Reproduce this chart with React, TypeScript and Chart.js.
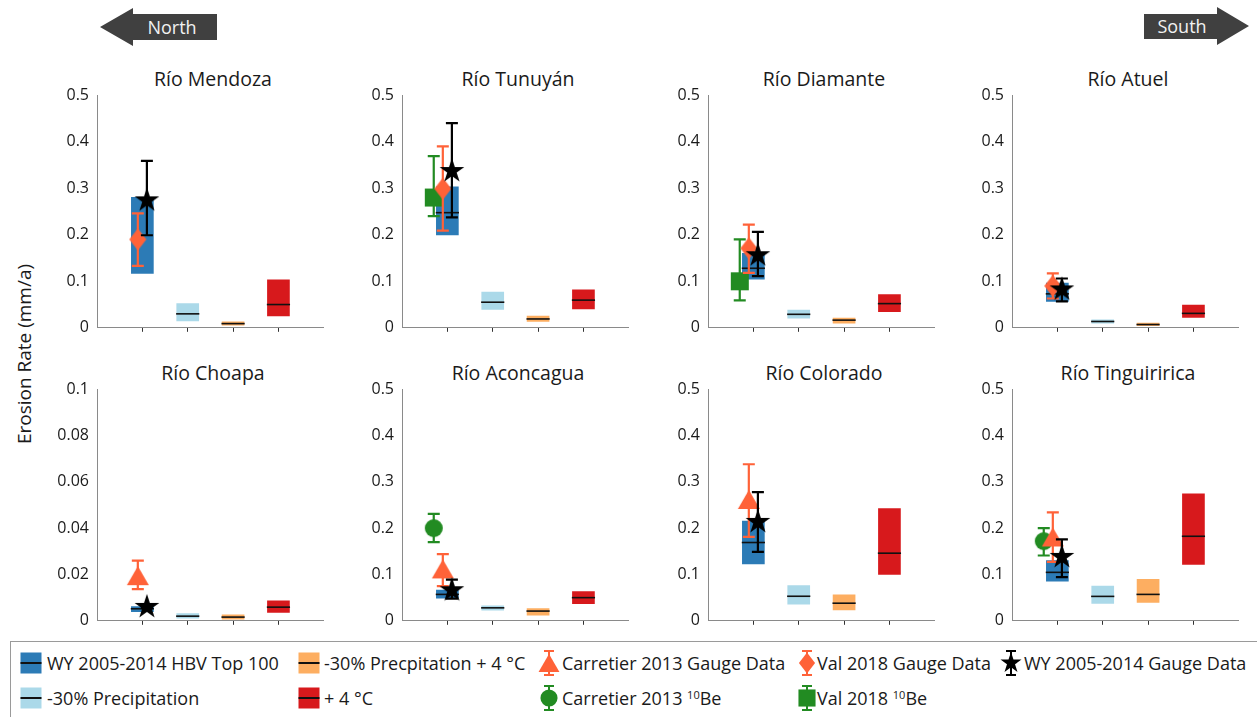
import React, { useEffect, useRef } from 'react';
import { Chart, registerables } from 'chart.js';

Chart.register(...registerables);

const FONT = '"Open Sans", "Noto Sans", sans-serif';

// ---------------- data ----------------
const basins = ['Río Mendoza', 'Río Tunuyán', 'Río Diamante', 'Río Atuel', 'Río Choapa', 'Río Aconcagua', 'Río Colorado', 'Río Tinguiririca'];
const yAxisMax = [0.5, 0.5, 0.5, 0.5, 0.1, 0.5, 0.5, 0.5];
const yAxisStep = [0.1, 0.1, 0.1, 0.1, 0.02, 0.1, 0.1, 0.1];
const xTickValues = [1, 2, 3, 4];

const scenarioNames = ['WY 2005-2014 HBV Top 100', '-30% Precipitation', '-30% Precpitation + 4 °C', '+ 4 °C'];

// [low, median, high] per basin
const hbvTop100: (number | null)[][] = [
  [0.116, null, 0.281],
  [0.199, 0.2475, 0.304],
  [0.104, 0.128, 0.161],
  [0.056, 0.073, 0.097],
  [0.0038, 0.0052, 0.0063],
  [0.048, 0.057, 0.067],
  [0.122, 0.169, 0.216],
  [0.085, 0.1046, 0.1306],
];
const minus30Precip: number[][] = [
  [0.014, 0.03, 0.053],
  [0.039, 0.055, 0.0775],
  [0.02, 0.029, 0.039],
  [0.009, 0.0136, 0.018],
  [0.001, 0.002, 0.0033],
  [0.022, 0.028, 0.033],
  [0.035, 0.053, 0.0765],
  [0.0368, 0.0527, 0.0758],
];
const minus30PrecipPlus4C: number[][] = [
  [0.005, 0.009, 0.0136],
  [0.013, 0.019, 0.026],
  [0.009, 0.0165, 0.0215],
  [0.004, 0.007, 0.011],
  [0.0006, 0.0016, 0.0027],
  [0.0115, 0.021, 0.027],
  [0.023, 0.038, 0.057],
  [0.039, 0.057, 0.09],
];
const plus4C: number[][] = [
  [0.025, 0.05, 0.104],
  [0.04, 0.0595, 0.0825],
  [0.034, 0.052, 0.072],
  [0.0215, 0.031, 0.0495],
  [0.0035, 0.0059, 0.0088],
  [0.036, 0.05, 0.064],
  [0.0996, 0.146, 0.243],
  [0.121, 0.1825, 0.275],
];
const scenarios = [hbvTop100, minus30Precip, minus30PrecipPlus4C, plus4C];

// [value, low, high] per basin
const carretierGauge = [null, null, null, null, [0.0195, 0.0137, 0.026], [0.112, 0.075, 0.144], [0.262, 0.181, 0.338], [0.181, 0.127, 0.234]];
const carretierBe = [null, null, null, null, null, [0.2, 0.17, 0.231], null, [0.172, 0.141, 0.2]];
const valGauge = [[0.19, 0.133, 0.246], [0.299, 0.209, 0.39], [0.171, 0.118, 0.222], [0.09, 0.063, 0.117], null, null, null, null];
const valBe = [null, [0.28, 0.24, 0.369], [0.1, 0.059, 0.19], null, null, null, null, null];
const wyGauge = [[0.274, 0.199, 0.359], [0.337, 0.2375, 0.44], [0.156, 0.111, 0.206], [0.0825, 0.057, 0.106], [0.006, 0.0055, 0.0066], [0.066, 0.048, 0.089], [0.2135, 0.1486, 0.278], [0.138, 0.0945, 0.176]];

// ---------------- styles ----------------
const boxColors = ['#2c7bb6', '#abd9e9', '#fdae61', '#d7191c'];
const GREEN = '#228b22';
const ORANGE = '#ff6238';
const BLACK = '#000000';

const markerSeries = [
  { name: 'Carretier 2013 Be', values: carretierBe, x: 0.7, color: GREEN, shape: 'circle', order: 8 },
  { name: 'Val 2018 Be', values: valBe, x: 0.7, color: GREEN, shape: 'square', order: 7 },
  { name: 'Carretier 2013 Gauge Data', values: carretierGauge, x: 0.9, color: ORANGE, shape: 'triangle', order: 6 },
  { name: 'Val 2018 Gauge Data', values: valGauge, x: 0.9, color: ORANGE, shape: 'diamond', order: 5 },
  { name: 'WY 2005-2014 Gauge Data', values: wyGauge, x: 1.1, color: BLACK, shape: 'star', order: 4 },
];

const MARKER_DIMS: Record<string, [number, number]> = {
  triangle: [22, 19],
  diamond: [17, 22],
  circle: [18, 18],
  square: [18, 18],
  star: [26, 26],
};

function shapePoly(shape: string, cx: number, cy: number, w: number, h: number): number[][] {
  if (shape === 'triangle') return [[cx, cy - h / 2], [cx + w / 2, cy + h / 2], [cx - w / 2, cy + h / 2]];
  if (shape === 'diamond') return [[cx, cy - h / 2], [cx + w / 2, cy], [cx, cy + h / 2], [cx - w / 2, cy]];
  if (shape === 'square') return [[cx - w / 2, cy - h / 2], [cx + w / 2, cy - h / 2], [cx + w / 2, cy + h / 2], [cx - w / 2, cy + h / 2]];
  if (shape === 'star') {
    const R = w / 2;
    const r = R * 0.382;
    const pts: number[][] = [];
    for (let i = 0; i < 10; i++) {
      const a = -Math.PI / 2 + (i * Math.PI) / 5;
      const rad = i % 2 === 0 ? R : r;
      pts.push([cx + rad * Math.cos(a), cy + rad * Math.sin(a)]);
    }
    return pts;
  }
  return [];
}

function markerCanvas(shape: string, color: string): HTMLCanvasElement {
  const [w, h] = MARKER_DIMS[shape];
  const c = document.createElement('canvas');
  c.width = w + 2;
  c.height = h + 2;
  const g = c.getContext('2d')!;
  g.fillStyle = color;
  g.beginPath();
  const cx = c.width / 2;
  const cy = c.height / 2;
  if (shape === 'circle') {
    g.arc(cx, cy, w / 2, 0, Math.PI * 2);
  } else {
    shapePoly(shape, cx, cy, w, h).forEach(([px, py], i) => (i === 0 ? g.moveTo(px, py) : g.lineTo(px, py)));
    g.closePath();
  }
  g.fill();
  return c;
}

const errorBarPlugin = {
  id: 'errorBars',
  beforeDatasetDraw(chart: any, args: any) {
    const ds = chart.data.datasets[args.index];
    if (!ds.errColor) return;
    const { ctx } = chart;
    const xs = chart.scales.x;
    const ys = chart.scales.y;
    const cap = 6;
    ctx.save();
    ctx.strokeStyle = ds.errColor;
    ctx.lineWidth = 2.2;
    ds.data.forEach((p: any) => {
      const px = xs.getPixelForValue(p.x);
      const top = ys.getPixelForValue(p.hi);
      const bot = ys.getPixelForValue(p.lo);
      ctx.beginPath();
      ctx.moveTo(px, top);
      ctx.lineTo(px, bot);
      ctx.moveTo(px - cap, top);
      ctx.lineTo(px + cap, top);
      ctx.moveTo(px - cap, bot);
      ctx.lineTo(px + cap, bot);
      ctx.stroke();
    });
    ctx.restore();
  },
};

const panelCols = [97, 402, 708, 1012];
const rowTops = [94, 388];
const rowHeights = [235, 234];
const PLOT_W = 232;
const Y_AXIS_W = 60;
const PAD_TOP = 12;
const X_AXIS_H = 12;

function Panel({ idx }: { idx: number }) {
  const ref = useRef<HTMLCanvasElement>(null);
  const col = idx % 4;
  const row = Math.floor(idx / 4);
  const axisX = panelCols[col];
  const plotTop = rowTops[row];
  const plotH = rowHeights[row];
  const cw = Y_AXIS_W + PLOT_W + 8;
  const chH = PAD_TOP + plotH + X_AXIS_H;

  useEffect(() => {
    const b = idx;
    const boxData = scenarios.map((s, k) => ({ x: xTickValues[k], y: [s[b][0], s[b][2]] }));
    const medianData = scenarios.map((s, k) => ({ x: xTickValues[k], y: s[b][1] }));
    const markerDs = markerSeries
      .filter((m) => m.values[b])
      .map((m) => {
        const v = m.values[b] as number[];
        return {
          type: 'scatter',
          label: m.name,
          data: [{ x: m.x, y: v[0], lo: v[1], hi: v[2] }],
          pointStyle: markerCanvas(m.shape, m.color),
          pointRadius: 8,
          errColor: m.color,
          order: m.order,
          clip: false,
        };
      });
    const chart = new Chart(ref.current!, {
      type: 'bar',
      data: {
        datasets: [
          {
            type: 'bar',
            data: boxData as any,
            backgroundColor: boxColors,
            borderWidth: 0,
            barPercentage: 0.5,
            categoryPercentage: 1,
            grouped: false,
            order: 10,
          } as any,
          {
            type: 'scatter',
            data: medianData as any,
            pointStyle: 'line',
            pointRadius: 11.6,
            pointBorderWidth: 1.6,
            pointBorderColor: '#111',
            borderColor: '#111',
            order: 9,
            clip: false,
          } as any,
          ...(markerDs as any[]),
        ],
      },
      options: {
        responsive: false,
        animation: false,
        events: [],
        layout: { padding: { top: PAD_TOP, right: 8, left: 0, bottom: 0 } },
        plugins: { legend: { display: false }, tooltip: { enabled: false }, title: { display: false } },
        scales: {
          x: {
            type: 'linear',
            min: 0,
            max: 5,
            offset: false,
            afterBuildTicks: (s: any) => {
              s.ticks = xTickValues.map((v) => ({ value: v }));
            },
            afterFit: (s: any) => {
              s.height = X_AXIS_H;
              s.paddingLeft = 0;
              s.paddingRight = 0;
            },
            ticks: { display: false },
            grid: { display: true, drawOnChartArea: false, drawTicks: true, tickLength: 4, color: '#333', offset: false },
            border: { display: true, color: '#8a8a8a', width: 1 },
          },
          y: {
            type: 'linear',
            min: 0,
            max: yAxisMax[b],
            afterFit: (s: any) => {
              s.width = Y_AXIS_W;
              s.paddingTop = 0;
              s.paddingBottom = 0;
            },
            ticks: {
              stepSize: yAxisStep[b],
              padding: 8,
              color: '#1a1a1a',
              font: { family: FONT, size: 16 },
              callback: (v: any) => String(+Number(v).toFixed(4)),
            },
            grid: { display: true, drawOnChartArea: false, drawTicks: false },
            border: { display: true, color: '#8a8a8a', width: 1 },
          },
        },
      } as any,
      plugins: [errorBarPlugin],
    });
    return () => chart.destroy();
  }, [idx]);

  return (
    <>
      <div
        style={{
          position: 'absolute',
          left: axisX,
          width: PLOT_W,
          top: plotTop - 26,
          textAlign: 'center',
          fontSize: 19.5,
          lineHeight: '22px',
          whiteSpace: 'nowrap',
          color: '#1a1a1a',
        }}
      >
        {basins[idx]}
      </div>
      <canvas
        ref={ref}
        width={cw}
        height={chH}
        style={{ position: 'absolute', left: axisX - Y_AXIS_W, top: plotTop - PAD_TOP, width: cw, height: chH }}
      />
    </>
  );
}

function Arrows() {
  return (
    <svg width={1257} height={60} style={{ position: 'absolute', left: 0, top: 0 }}>
      <polygon points="100,27 133,8 133,14 217,14 217,40 133,40 133,46" fill="#404040" />
      <text x={172} y={34} textAnchor="middle" fill="#f2f2f2" fontSize={18} fontFamily={FONT}>
        North
      </text>
      <polygon points="1144,14 1217,14 1217,7 1249,26 1217,45 1217,39 1144,39" fill="#404040" />
      <text x={1182} y={33} textAnchor="middle" fill="#f2f2f2" fontSize={18} fontFamily={FONT}>
        South
      </text>
    </svg>
  );
}

function BoxIcon({ x, y, color }: { x: number; y: number; color: string }) {
  return (
    <svg width={22} height={22} style={{ position: 'absolute', left: x, top: y - 11 }}>
      <rect x={0.5} y={0.5} width={21} height={21} fill={color} />
      <line x1={0.5} x2={21.5} y1={11} y2={11} stroke="#111" strokeWidth={2} />
    </svg>
  );
}

function MarkerIcon({ cx0, y, color, shape }: { cx0: number; y: number; color: string; shape: string }) {
  const W = 26;
  const H = 28;
  const cx = W / 2;
  const cy = H / 2;
  const [mw, mh] = MARKER_DIMS[shape];
  const s = shape === 'star' ? 0.85 : 0.95;
  const w = mw * s;
  const h = mh * s;
  const top = 2;
  const bot = H - 2;
  return (
    <svg width={W} height={H} style={{ position: 'absolute', left: cx0 - W / 2, top: y - H / 2 }}>
      <path d={`M${cx},${top} L${cx},${bot} M${cx - 5},${top} L${cx + 5},${top} M${cx - 5},${bot} L${cx + 5},${bot}`} stroke={color} strokeWidth={2} />
      {shape === 'circle' ? (
        <circle cx={cx} cy={cy} r={w / 2} fill={color} />
      ) : (
        <polygon points={shapePoly(shape, cx, cy, w, h).map((p) => p.join(',')).join(' ')} fill={color} />
      )}
    </svg>
  );
}

function LegendText({ x, y, children }: { x: number; y: number; children: React.ReactNode }) {
  return (
    <div style={{ position: 'absolute', left: x, top: y - 12, lineHeight: '24px', fontSize: 18, whiteSpace: 'nowrap', color: '#1a1a1a' }}>
      {children}
    </div>
  );
}

const sup = (t: string) => <span style={{ fontSize: 11, position: 'relative', top: -6 }}>{t}</span>;

function Legend() {
  const r1 = 663;
  const r2 = 698;
  return (
    <>
      <div style={{ position: 'absolute', left: 10, top: 641, width: 1252, height: 90, border: '1px solid #9a9a9a', boxSizing: 'border-box' }} />
      <BoxIcon x={20} y={r1} color={boxColors[0]} />
      <LegendText x={47} y={r1}>{scenarioNames[0]}</LegendText>
      <BoxIcon x={20} y={r2} color={boxColors[1]} />
      <LegendText x={47} y={r2}>{scenarioNames[1]}</LegendText>
      <BoxIcon x={298} y={r1} color={boxColors[2]} />
      <LegendText x={324} y={r1}>{scenarioNames[2]}</LegendText>
      <BoxIcon x={298} y={r2} color={boxColors[3]} />
      <LegendText x={324} y={r2}>{scenarioNames[3]}</LegendText>
      <MarkerIcon cx0={549} y={r1} color={ORANGE} shape="triangle" />
      <LegendText x={562} y={r1}>Carretier 2013 Gauge Data</LegendText>
      <MarkerIcon cx0={549} y={r2} color={GREEN} shape="circle" />
      <LegendText x={562} y={r2}>Carretier 2013 {sup('10')}Be</LegendText>
      <MarkerIcon cx0={807} y={r1} color={ORANGE} shape="diamond" />
      <LegendText x={817} y={r1}>Val 2018 Gauge Data</LegendText>
      <MarkerIcon cx0={807} y={r2} color={GREEN} shape="square" />
      <LegendText x={817} y={r2}>Val 2018 {sup('10')}Be</LegendText>
      <MarkerIcon cx0={1011} y={r1} color={BLACK} shape="star" />
      <LegendText x={1024} y={r1}>WY 2005-2014 Gauge Data</LegendText>
    </>
  );
}

export default function App() {
  return (
    <div
      style={{
        position: 'fixed',
        left: 0,
        top: 0,
        width: 1257,
        height: 717,
        overflow: 'hidden',
        background: '#fff',
        fontFamily: FONT,
      }}
    >
      <Arrows />
      <div
        style={{
          position: 'absolute',
          left: 24 - 150,
          top: 354 - 12,
          width: 300,
          height: 24,
          lineHeight: '24px',
          textAlign: 'center',
          fontSize: 19,
          color: '#1a1a1a',
          transform: 'rotate(-90deg)',
          transformOrigin: '50% 50%',
          whiteSpace: 'nowrap',
        }}
      >
        Erosion Rate (mm/a)
      </div>
      {basins.map((_, i) => (
        <Panel key={i} idx={i} />
      ))}
      <Legend />
    </div>
  );
}
